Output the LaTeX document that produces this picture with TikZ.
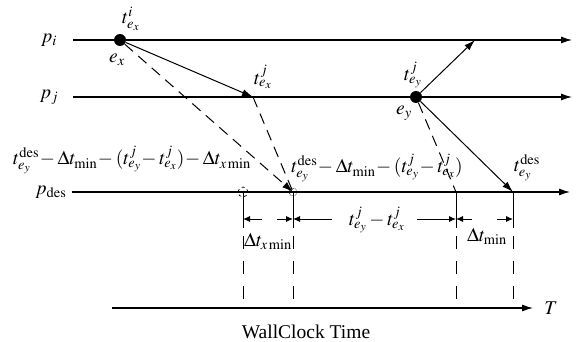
\documentclass[tikz,border=0pt]{standalone}
\usepackage{mathptmx}
\usepackage[no-math]{fontspec}
\setmainfont{Liberation Serif}
\usetikzlibrary{arrows.meta}
\tikzset{
  >={Latex[length=11pt,width=7pt]},
  proc/.style={line width=1.1pt,->},
  msg/.style={line width=1pt,->},
  lag/.style={line width=1pt,dash pattern=on 11pt off 7pt},
  guide/.style={line width=1pt,dash pattern=on 13pt off 12pt},
  tickline/.style={line width=1pt},
  span/.style={line width=0.9pt,-{Latex[length=7pt,width=6pt]}},
  ev/.style={circle,fill=black,inner sep=0pt,minimum size=12pt},
  tag/.style={font=\fontsize{19.5}{22}\selectfont,inner sep=0pt},
}
\begin{document}
\begin{tikzpicture}[x=1pt,y=-1pt]
  \useasboundingbox (0,0) rectangle (582,342);
  % process lines
  \node[tag] (pi) at (49,40) {$p_i$};
  \node[tag] (pj) at (49,97) {$p_j$};
  \node[tag] (pd) at (51,192) {$p_{\mathrm{des}}$};
  \coordinate (i0) at (73,40);  \coordinate (i1) at (572,40);
  \coordinate (j0) at (73,97);  \coordinate (j1) at (572,97);
  \coordinate (d0) at (72,192); \coordinate (d1) at (570,192);
  \draw[proc] (i0) -- (i1);
  \draw[proc] (j0) -- (j1);
  \draw[proc] (d0) -- (d1);
  % events and messages
  \node[ev] (ex) at (120,40) {};
  \node[ev] (ey) at (416,97) {};
  \coordinate (rx) at (253,97);
  \coordinate (ry) at (475,40);
  \coordinate (dy) at (513,192);
  \coordinate (dj) at (456,192);
  \coordinate (dx) at (293,192);
  \coordinate (dl) at (243,192);
  \draw[msg] (ex) -- (rx);
  \draw[msg] (ey) -- (ry);
  \draw[msg] (ey) -- (dy);
  \draw[lag,->] (ex) -- (dx);
  \draw[lag] (rx) -- (dx);
  \draw[lag] (ey) -- (dj);
  \draw[dashed,line width=0.7pt] (dl) circle (5pt);
  \draw[densely dotted,line width=0.7pt] (dx) circle (4pt);
  \node[tag] (tix) at (131,19) {$t^{i}_{e_x}$};
  \node[tag] (lex) at (117,60) {$e_x$};
  \node[tag] (tjx) at (263,77) {$t^{j}_{e_x}$};
  \node[tag] (tjy) at (413,75) {$t^{j}_{e_y}$};
  \node[tag] (ley) at (404,113) {$e_y$};
  \node[tag] (lft) at (132,160)
    {$t^{\mathrm{des}}_{e_y}\!-\Delta t_{\mathrm{min}}\!-(t^{j}_{e_y}\!-t^{j}_{e_x})\!-\Delta t_{x\,\mathrm{min}}$};
  \node[tag] (mid) at (377,168)
    {$t^{\mathrm{des}}_{e_y}\!-\Delta t_{\mathrm{min}}\!-(t^{j}_{e_y}\!-t^{j}_{e_x})$};
  \node[tag] (tdy) at (527,168) {$t^{\mathrm{des}}_{e_y}$};
  % wall clock
  \coordinate (T0) at (112,308); \coordinate (T1) at (533,308);
  \coordinate (dim) at (0,219);
  \draw[proc] (T0) -- (T1);
  \foreach \n in {dl,dx,dj,dy}{
    \draw[tickline] (\n) -- ++(0,36);
    \draw[guide] (\n) ++(0,44) -- (\n |- T0);
  }
  \draw[span] (262,219) -- (dl |- dim);
  \draw[span] (277,219) -- (dx |- dim);
  \draw[span] (332,219) -- (dx |- dim);
  \draw[span] (417,219) -- (dj |- dim);
  \draw[span] (472,219) -- (dj |- dim);
  \draw[span] (497,219) -- (dy |- dim);
  \node[tag] (wx) at (268,241) {$\Delta t_{x\,\mathrm{min}}$};
  \node[tag] (wj) at (377,220) {$t^{j}_{e_y}-t^{j}_{e_x}$};
  \node[tag] (wy) at (487,236) {$\Delta t_{\mathrm{min}}$};
  \node[tag] (lT) at (551,308) {$T$};
  \node[tag] (lw) at (306,332) {WallClock Time};
\end{tikzpicture}
\end{document}
